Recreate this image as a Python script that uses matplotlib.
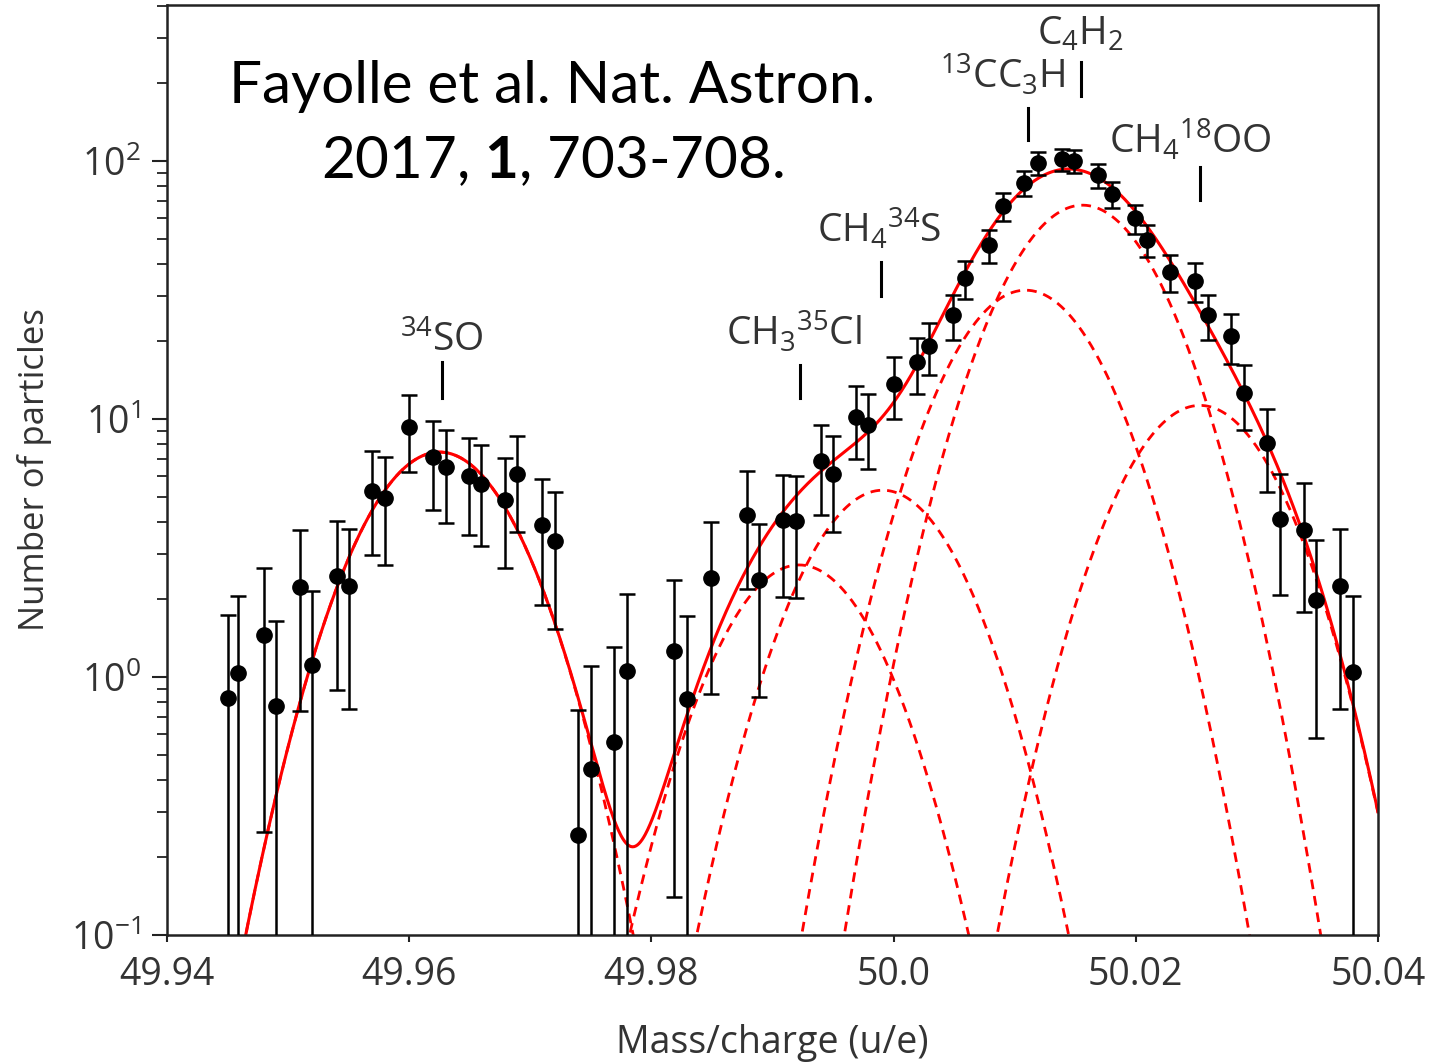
import matplotlib
matplotlib.use("Agg")
import matplotlib.pyplot as plt
import numpy as np
from matplotlib.ticker import LogLocator, NullFormatter

plt.rcParams["font.family"] = ["Open Sans", "DejaVu Sans"]
plt.rcParams["mathtext.fontset"] = "custom"
plt.rcParams["mathtext.default"] = "regular"
plt.rcParams["mathtext.bf"] = "Lato:bold"

# ---- measured spectrum (mass/charge, counts, sqrt(N) error) ----
mass = [49.9450, 49.9459, 49.9480, 49.9490, 49.9510, 49.9520, 49.9540, 49.9550,
        49.9569, 49.9580, 49.9600, 49.9620, 49.9630, 49.9649, 49.9659, 49.9679,
        49.9689, 49.9710, 49.9720,
        49.9739, 49.9750, 49.9769, 49.9780, 49.9819, 49.9829, 49.9849, 49.9879,
        49.9889, 49.9909, 49.9919, 49.9940, 49.9950, 49.9969, 49.9979, 50.0000,
        50.0019, 50.0029, 50.0049, 50.0059, 50.0079, 50.0090, 50.0108, 50.0119,
        50.0139, 50.0149, 50.0169, 50.0180, 50.0199, 50.0209, 50.0228, 50.0249,
        50.0260, 50.0279, 50.0289, 50.0308, 50.0319, 50.0339, 50.0349, 50.0369,
        50.0379]
counts = [0.83, 1.04, 1.45, 0.77, 2.23, 1.11, 2.46, 2.25,
          5.26, 4.94, 9.31, 7.12, 6.52, 6.01, 5.60, 4.85,
          6.12, 3.88, 3.37,
          0.244, 0.44, 0.56, 1.06, 1.26, 0.82, 2.42, 4.25,
          2.38, 4.06, 4.02, 6.87, 6.12, 10.2, 9.48, 13.7,
          16.6, 19.2, 25.3, 35.2, 47.2, 66.9, 82.2, 98.2,
          101.8, 100.0, 88.3, 74.5, 60.1, 49.4, 37.1, 34.3,
          25.3, 21.0, 12.6, 8.07, 4.10, 3.71, 1.99, 2.25,
          1.05]
errors = [0.91, 1.02, 1.20, 0.88, 1.49, 1.05, 1.57, 1.50,
          2.29, 2.22, 3.05, 2.67, 2.55, 2.45, 2.37, 2.20,
          2.47, 1.97, 1.84,
          0.50, 0.66, 0.75, 1.03, 1.12, 0.91, 1.56, 2.06,
          1.54, 2.01, 2.00, 2.62, 2.47, 3.19, 3.08, 3.70,
          4.07, 4.38, 5.03, 5.93, 6.87, 8.18, 9.07, 9.91,
          10.09, 10.0, 9.40, 8.63, 7.75, 7.03, 6.09, 5.86,
          5.03, 4.58, 3.55, 2.84, 2.02, 1.93, 1.41, 1.50,
          1.02]

# ---- fitted gaussian components ----
peak_labels = [r"$^{34}$SO", r"CH$_3$$^{35}$Cl", r"CH$_4$$^{34}$S",
               r"$^{13}$CC$_3$H", r"C$_4$H$_2$", r"CH$_4$$^{18}$OO"]
peak_centers = [49.9625, 49.9922, 49.9991, 50.0109, 50.0156, 50.0253]
peak_heights = [7.45, 2.72, 5.3, 31.6, 67.5, 11.3]
peak_sigma = 0.00545

# label placement: text x, text baseline y, marker x, marker top y, marker bottom y
label_x = [49.9627, 49.9918, 49.9988, 50.0090, 50.0154, 50.0245]
label_y = [18.3, 19.4, 48.5, 192, 282, 107]
mark_x = [49.9627, 49.9923, 49.9990, 50.0111, 50.0155, 50.0253]
mark_top = [16.6, 16.2, 40.6, 160, 242, 94.8]
mark_bot = [12.1, 12.1, 30.0, 121, 179, 70.6]

fig = plt.figure(figsize=(14.47, 10.62), dpi=100)
ax = fig.add_axes([167 / 1447, 1 - 935 / 1062, (1378 - 167) / 1447, (935 - 5) / 1062])

xs = np.linspace(49.94, 50.04, 1500)
components = []
for c, h in zip(peak_centers, peak_heights):
    comp = h * np.exp(-0.5 * ((xs - c) / peak_sigma) ** 2)
    components.append(comp)
    ax.plot(xs, comp, color="#ff0000", lw=2.0, ls=(0, (3.5, 2.5)), zorder=2)
ax.plot(xs, np.sum(components, axis=0), color="#ff0000", lw=2.2, zorder=2)

counts_a = np.array(counts)
err_a = np.array(errors)
lower = np.where(err_a >= counts_a, counts_a * 0.9999, err_a)
ax.errorbar(mass, counts_a, yerr=[lower, err_a], fmt="o", color="black",
            ms=11, elinewidth=1.8, capsize=5.5, capthick=1.8, zorder=3)

# molecule annotations
for lab, tx, ty, mx, mt, mb in zip(peak_labels, label_x, label_y,
                                   mark_x, mark_top, mark_bot):
    ax.text(tx, ty, lab, ha="center", va="baseline", fontsize=28,
            color="#333333", zorder=4)
    ax.plot([mx, mx], [mb, mt], color="black", lw=2.2, zorder=4)

ax.text(49.9718, 168, "Fayolle et al. Nat. Astron.", ha="center",
        va="baseline", fontsize=42, family=["Lato", "DejaVu Sans"],
        color="black", zorder=5)
ax.text(49.9718, 86, r"2017, $\mathbf{1}$, 703-708.", ha="center",
        va="baseline", fontsize=42, family=["Lato", "DejaVu Sans"],
        color="black", zorder=5)

ax.set_yscale("log")
ax.set_xlim(49.94, 50.04)
ax.set_ylim(0.1, 403)
ax.set_xticks([49.94, 49.96, 49.98, 50.0, 50.02, 50.04])
ax.set_xticklabels(["49.94", "49.96", "49.98", "50.0", "50.02", "50.04"])
ax.yaxis.set_major_locator(LogLocator(base=10, numticks=10))
ax.yaxis.set_minor_locator(LogLocator(base=10, subs=np.arange(2, 10), numticks=20))
ax.yaxis.set_minor_formatter(NullFormatter())

ax.tick_params(axis="x", which="major", direction="out", length=5, width=1.5,
               labelsize=27, pad=10, colors="#222222", labelcolor="#333333")
ax.tick_params(axis="y", which="major", direction="out", length=11, width=1.5,
               labelsize=27, pad=8, colors="#222222", labelcolor="#333333")
ax.tick_params(axis="y", which="minor", direction="out", length=7, width=1.3,
               colors="#222222")
for s in ax.spines.values():
    s.set_linewidth(1.8)
    s.set_color("#222222")

ax.set_xlabel("Mass/charge (u/e)", fontsize=27, color="#333333", labelpad=22)
ax.set_ylabel("Number of particles", fontsize=25, color="#333333", labelpad=14)

fig.savefig("out.png", dpi=100)
